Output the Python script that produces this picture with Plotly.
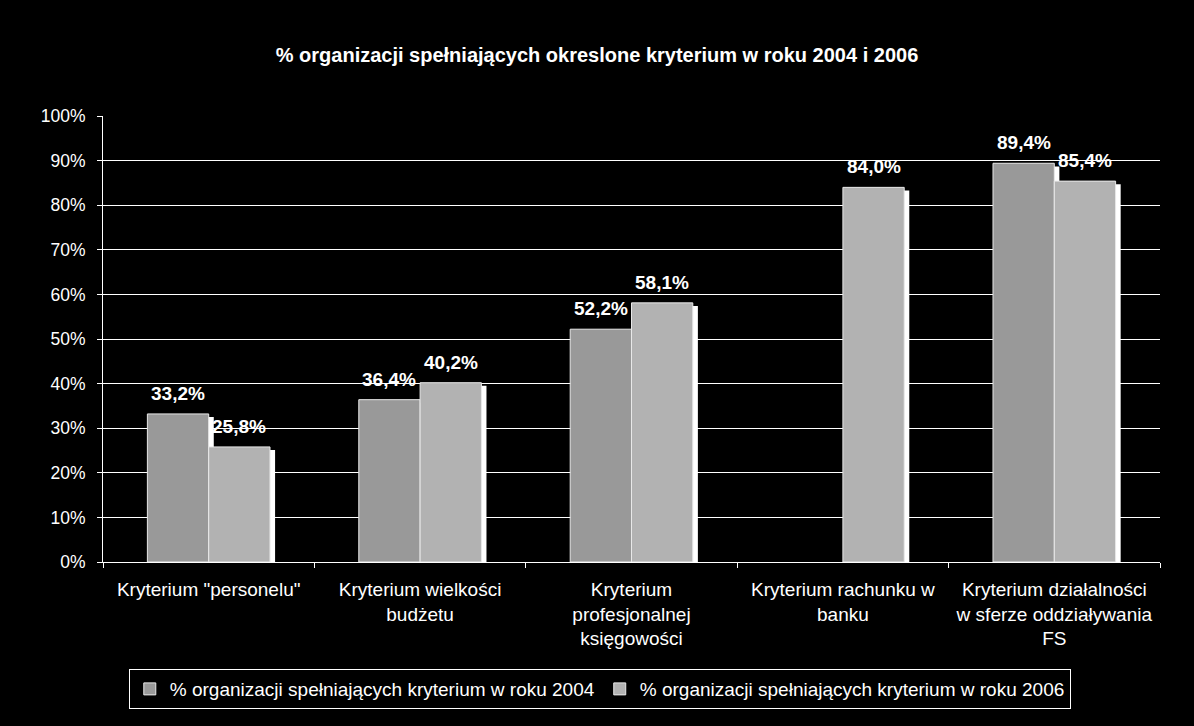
import plotly.graph_objects as go

categories = [
    'Kryterium "personelu"',
    "Kryterium wielkości<br>budżetu",
    "Kryterium<br>profesjonalnej<br>księgowości",
    "Kryterium rachunku w<br>banku",
    "Kryterium działalności<br>w sferze oddziaływania<br>FS",
]
values_2004 = [33.2, 36.4, 52.2, None, 89.4]
values_2006 = [25.8, 40.2, 58.1, 84.0, 85.4]
series_names = [
    "% organizacji spełniających kryterium w roku 2004",
    "% organizacji spełniających kryterium w roku 2006",
]
y_ticks = list(range(0, 101, 10))
y_tick_labels = [f"{t}%" for t in y_ticks]

FONT = "Arial, Liberation Sans, sans-serif"
W = 0.29          # bar width in category units
SH_DX = 0.024     # shadow x shift
SH_DY = 0.7       # shadow drop (value units)


def fmt(v):
    return "" if v is None else f"{v:.1f}".replace(".", ",") + "%"


def shadow(vals):
    return [None if v is None else v - SH_DY for v in vals]


fig = go.Figure()
# shadows
for vals, off in [(values_2004, -W), (values_2006, 0.0)]:
    fig.add_trace(go.Bar(
        x=categories, y=shadow(vals), offset=off + SH_DX, width=W,
        marker=dict(color="white", line=dict(width=0)),
        showlegend=False, hoverinfo="skip",
    ))
# real bars
for vals, off, col, name in [
    (values_2004, -W, "#999999", series_names[0]),
    (values_2006, 0.0, "#b2b2b2", series_names[1]),
]:
    fig.add_trace(go.Bar(
        x=categories, y=vals, offset=off, width=W, name=name,
        marker=dict(color=col, line=dict(color="#e8e8e8", width=1)),
        cliponaxis=False,
    ))

# value labels
annotations = []
for vals, dx in [(values_2004, -W / 2), (values_2006, W / 2)]:
    for i, v in enumerate(vals):
        if v is None:
            continue
        annotations.append(dict(
            x=i + dx, y=v, xref="x", yref="y", text=f"<b>{fmt(v)}</b>",
            showarrow=False, yanchor="bottom", xanchor="center", yshift=8,
            font=dict(family=FONT, size=19, color="white"),
        ))

fig.update_layout(
    width=1194, height=726,
    paper_bgcolor="black", plot_bgcolor="black",
    barmode="overlay",
    margin=dict(l=103, r=34, t=116, b=164),
    annotations=annotations,
    title=dict(
        text="<b>% organizacji spełniających okreslone kryterium w roku 2004 i 2006</b>",
        x=0.5, xanchor="center", y=1 - 55 / 726, yanchor="middle",
        font=dict(family=FONT, size=20, color="white"),
    ),
    font=dict(family=FONT, color="white"),
    legend=dict(
        orientation="h", x=0.47, xanchor="center", y=-0.24, yanchor="top",
        bgcolor="black", bordercolor="white", borderwidth=1,
        font=dict(family=FONT, size=19, color="white"),
        itemwidth=30,
    ),
    xaxis=dict(
        showline=True, linecolor="white", linewidth=1,
        ticks="outside", tickson="boundaries", ticklen=5, tickcolor="white",
        ticklabelstandoff=10,
        tickfont=dict(family=FONT, size=19, color="white"),
        showgrid=False,
    ),
    yaxis=dict(
        range=[0, 100], tickvals=y_ticks, ticktext=y_tick_labels,
        showline=True, linecolor="white", linewidth=1,
        ticks="outside", ticklen=5, tickcolor="white",
        ticklabelstandoff=8,
        tickfont=dict(family=FONT, size=17.5, color="white"),
        showgrid=True, gridcolor="white", gridwidth=1,
        zeroline=False,
    ),
)

fig.write_html("out.html")
